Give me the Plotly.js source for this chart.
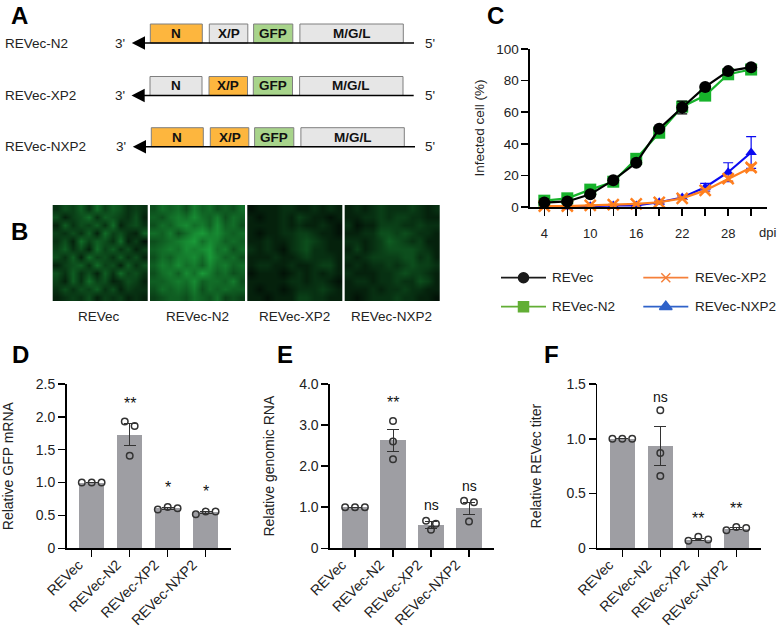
<!DOCTYPE html>
<html>
<head>
<meta charset="utf-8">
<script src="https://cdn.plot.ly/plotly-3.0.1.min.js"></script>
<style>html,body{margin:0;padding:0;background:#fff}</style>
</head>
<body>
<div id="chart" style="width:777px;height:627px"></div>
<script>
// ---------- data ----------
const categories = ['REVec', 'REVec-N2', 'REVec-XP2', 'REVec-NXP2'];
const dpi = [4, 7, 10, 13, 16, 19, 22, 25, 28, 31];
const dpiTickLabels = ['4', '', '10', '', '16', '', '22', '', '28', ''];

const infectedREVec = [2.8, 3.5, 8, 17, 28, 49.5, 63, 76, 86, 88.5];
const infectedN2 = [4, 5.5, 11, 16, 30.5, 47, 63.5, 70.5, 84, 87];
const infectedXP2 = [0.5, 0.5, 1, 1.5, 2, 3, 5.5, 10.5, 18, 25];
const infectedNXP2 = [-0.5, 0, 0.5, 1, 1, 3, 6, 12.5, 22, 34.5];
const errREVec = [0.5, 0.5, 0.8, 1, 1, 1.5, 4, 1.5, 1, 1];
const errN2 = [0.5, 0.5, 0.8, 1, 1, 1.5, 2, 2, 1, 1];
const errXP2 = [0.3, 0.3, 0.3, 0.3, 0.3, 0.5, 0.8, 1, 1.5, 2];
const errNXP2 = [0.3, 0.3, 0.3, 0.3, 0.5, 0.8, 1, 2.5, 6, 10];

const gfpMeans = [1.0, 1.73, 0.61, 0.55];
const gfpErrors = [0, 0.165, 0.012, 0.015];
const gfpPoints = [[1, 1, 1], [1.93, 1.41, 1.86], [0.59, 0.63, 0.61], [0.52, 0.56, 0.56]];
const gfpSpread = [0.26, 0.13, 0.26, 0.26];
const gfpSig = ['', '**', '*', '*'];
const gfpSigY = [0, 2.2, 0.93, 0.86];
const gfpTicks = [0, 0.5, 1, 1.5, 2, 2.5];
const gfpTickText = ['0', '0.5', '1.0', '1.5', '2.0', '2.5'];

const rnaMeans = [1.0, 2.63, 0.57, 0.97];
const rnaErrors = [0, 0.27, 0.08, 0.155];
const rnaPoints = [[1, 1, 1], [3.1, 2.6, 2.17], [0.67, 0.45, 0.6], [1.16, 0.65, 1.12]];
const rnaSpread = [0.26, 0, 0.13, 0.13];
const rnaSig = ['', '**', 'ns', 'ns'];
const rnaSigY = [0, 3.55, 1.05, 1.52];
const rnaTicks = [0, 1, 2, 3, 4];
const rnaTickText = ['0', '1.0', '2.0', '3.0', '4.0'];

const titerMeans = [1.0, 0.93, 0.08, 0.18];
const titerErrors = [0, 0.178, 0.012, 0.01];
const titerPoints = [[1, 1, 1], [1.26, 0.87, 0.66], [0.07, 0.105, 0.08], [0.165, 0.195, 0.185]];
const titerSpread = [0.26, 0, 0.26, 0.26];
const titerSig = ['', 'ns', '**', '**'];
const titerSigY = [0, 1.385, 0.27, 0.36];
const titerTicks = [0, 0.5, 1, 1.5];
const titerTickText = ['0', '0.5', '1.0', '1.5'];

const constructs = ['REVec-N2', 'REVec-XP2', 'REVec-NXP2'];
const genes = ['N', 'X/P', 'GFP', 'M/G/L'];
const duplicated = [['N'], ['X/P'], ['N', 'X/P']];

// coarse brightness of each micrograph (one digit per cell, 0-9)
const micrographNames = ['REVec', 'REVec-N2', 'REVec-XP2', 'REVec-NXP2'];
const micrographRows = [
  ['243526354232','413462543241','152435261342','324251634215','241635426130','352416352413',
   '425163425241','134526341524','425241526342','315263412431','242435241322','123241323121'],
  ['465647564546','546768657465','465786758564','657468978656','456789687565','567687896746',
   '465778697564','576867586756','467586975645','556768566574','465657465655','345546546343'],
  ['011122112121','101121321101','111121211210','101122332110','112112343211','212102342211',
   '111211232221','122112112331','011101212121','111112212210','101101222321','110111332211'],
  ['121232223212','112232332211','201133322322','112244343221','221235432311','131234444321',
   '212333344231','121223234332','211122343321','122122322431','111212232211','101222322110']
];
const micrographs = micrographRows.map(rows => rows.map(r => r.split('').map(Number)));

// ---------- layout helpers (pixel positions on the 777x627 canvas) ----------
const W = 777, H = 627;
const font = 'Liberation Sans, Arial, sans-serif';
const dx = a => [a[0] / W, a[1] / W];
const dy = a => [1 - a[1] / H, 1 - a[0] / H];

const traces = [];
const shapes = [];
const annotations = [];
const layout = {
  width: W, height: H, margin: {l: 0, r: 0, t: 0, b: 0},
  paper_bgcolor: '#fff', plot_bgcolor: 'rgba(0,0,0,0)',
  showlegend: false, font: {family: font, size: 13, color: '#222'},
  bargap: 0, hovermode: false
};

// pixel overlay for schematic, micrographs, legend and letters
layout.xaxis6 = {domain: [0, 1], range: [0, W], visible: false, fixedrange: true};
layout.yaxis6 = {domain: [0, 1], range: [H, 0], visible: false, fixedrange: true};
const text = (x, y, t, o = {}) => annotations.push(Object.assign({
  xref: 'x6', yref: 'y6', x: (o.xanchor ? x : x - 2), y, text: t, showarrow: false, xanchor: 'left', yanchor: 'middle',
  font: {family: font, size: 13.5, color: '#222'}
}, o));
const letter = (x, y, t) => text(x, y, t, {font: {family: font, size: 24, color: '#000', weight: 700}});

// panel letters
letter(11, 15.5, 'A'); letter(11, 231, 'B'); letter(487, 15.5, 'C');
letter(12, 354.5, 'D'); letter(277, 354.5, 'E'); letter(544, 354.5, 'F');

// panel A
const rowLine = [43, 95.5, 146.7];
const rowShift = [0.3, 0, 1.3];
const geneX = {'N': [150, 202], 'X/P': [209, 247.5], 'GFP': [253.3, 292.5], 'M/G/L': [299.6, 403]};
const geneFill = {orange: '#FDB63E', gray: '#E6E6E6', green: '#A8D48B'};
constructs.forEach((name, i) => {
  const y = rowLine[i], s = rowShift[i];
  text(5, y, name);
  text(114.5 + s, y, "3'");
  text(425 + s * 0.1, y, "5'");
  genes.forEach(g => {
    const fill = g === 'GFP' ? geneFill.green : duplicated[i].includes(g) ? geneFill.orange : geneFill.gray;
    shapes.push({type: 'rect', xref: 'x6', yref: 'y6', x0: geneX[g][0] + s, x1: geneX[g][1] + s, y0: y - 19, y1: y,
      fillcolor: fill, line: {color: '#7f7f7f', width: 1}});
    text((geneX[g][0] + geneX[g][1]) / 2 + s, y - 9.7, g, {xanchor: 'center',
      font: {family: font, size: 13.5, color: '#111', weight: 700}});
  });
  shapes.push({type: 'line', xref: 'x6', yref: 'y6', x0: 140, x1: 413.7 + s, y0: y, y1: y, line: {color: '#000', width: 1.6}});
  shapes.push({type: 'path', xref: 'x6', yref: 'y6', fillcolor: '#000', line: {width: 0},
    path: `M ${131.5 + s} ${y} L ${144.7 + s} ${y - 6.7} L ${144.7 + s} ${y + 6.7} Z`});
});

// panel B
const microX = [[52.7, 148], [150, 245.2], [247.3, 342.3], [344.7, 440]];
const microLabelX = [99, 197.7, 294.3, 391.7];
micrographs.forEach((z, i) => {
  const n = z.length, span = microX[i][1] - microX[i][0];
  traces.push({type: 'heatmap', z, x0: microX[i][0] + span / (2 * n), dx: span / n, y0: 205 + 95.5 / (2 * n), dy: 95.5 / n,
    xaxis: 'x6', yaxis: 'y6', zmin: 0, zmax: 9, zsmooth: 'best', showscale: false, hoverinfo: 'skip',
    colorscale: [[0, '#021207'], [1, '#1A9A38']]});
  text(microLabelX[i], 316.7, micrographNames[i], {xanchor: 'center'});
});

// panel C
layout.xaxis = {domain: dx([530, 767]), range: [2.13, 33.07], anchor: 'y', tickmode: 'array', tickvals: dpi, ticktext: dpiTickLabels,
  showline: true, linecolor: '#000', linewidth: 1.6, ticks: 'outside', ticklen: 7, tickwidth: 1.5, tickcolor: '#000',
  showgrid: false, zeroline: false, tickangle: 0, tickfont: {family: font, size: 13, color: '#222'}, fixedrange: true,
  ticklabelstandoff: 7};
layout.yaxis = {domain: dy([49, 207]), range: [0, 100], anchor: 'x', tickmode: 'array', tickvals: [0, 20, 40, 60, 80, 100],
  showline: true, linecolor: '#000', linewidth: 1.6, ticks: 'outside', ticklen: 7, tickwidth: 1.5, tickcolor: '#000',
  showgrid: false, zeroline: false, tickfont: {family: font, size: 13.5, color: '#222'}, fixedrange: true,
  title: {text: 'Infected cell (%)', font: {family: font, size: 13.5, color: '#222'}, standoff: 8}};
const curve = (name, y, err, color, symbol, size, extra = {}) => traces.push({
  type: 'scatter', mode: 'lines+markers', name, x: dpi, y, cliponaxis: false,
  error_y: {type: 'data', array: err, visible: true, color, thickness: 1.2, width: 5},
  line: {color, width: 2.2},
  marker: Object.assign({color, symbol, size}, extra)
});
curve('REVec-NXP2', infectedNXP2, errNXP2, '#0A0AF0', 'triangle-up', 10);
curve('REVec-N2', infectedN2, errN2, '#17B32B', 'square', 12);
curve('REVec-XP2', infectedXP2, errXP2, '#FF7F1E', 'x-thin', 11, {line: {color: '#FF7F1E', width: 2.5}});
curve('REVec', infectedREVec, errREVec, '#000', 'circle', 12);
text(767, 232.5, 'dpi', {xanchor: 'center', font: {family: font, size: 13, color: '#222'}});

// legend of panel C
const legendRows = [
  ['REVec', 0, 0, '#1a1a1a', 'circle', 10],
  ['REVec-XP2', 1, 0, '#F5803A', 'x-thin', 9],
  ['REVec-N2', 0, 1, '#62AE35', 'square', 10],
  ['REVec-NXP2', 1, 1, '#2F62C9', 'triangle-up', 11]
];
legendRows.forEach(([name, col, row, color, symbol, size]) => {
  const x0 = col ? 643.3 : 501, y = row ? 306.7 : 277.7;
  traces.push({type: 'scatter', mode: 'lines', x: [x0, x0 + 45], y: [y, y], xaxis: 'x6', yaxis: 'y6',
    line: {color, width: 1.8}, hoverinfo: 'skip'});
  traces.push({type: 'scatter', mode: 'markers', x: [x0 + 22.5], y: [y], xaxis: 'x6', yaxis: 'y6', hoverinfo: 'skip',
    marker: {color, symbol, size, line: {color, width: 1.5}}});
  text(x0 + 51.3, y, name);
});

// panels D, E, F
function barPanel(idx, left, right, means, errors, points, spread, sig, sigY, ticks, tickText, title, standoff) {
  const xa = 'xaxis' + idx, ya = 'yaxis' + idx, xr = 'x' + idx, yr = 'y' + idx;
  const xpos = categories.map((_, i) => i);
  layout[xa] = {domain: dx([left, right]), range: [-0.658, 3.658], anchor: yr, tickmode: 'array', tickvals: xpos, ticktext: categories,
    tickangle: -45, showline: true, linecolor: '#000', linewidth: 1.6, ticks: 'outside', ticklen: 7, tickwidth: 1.5, tickcolor: '#000',
    showgrid: false, zeroline: false, tickfont: {family: font, size: 14.2, color: '#222'}, fixedrange: true,
    ticklabelshift: -13, ticklabelstandoff: -6};
  layout[ya] = {domain: dy([384, 548.3]), range: [0, ticks[ticks.length - 1]], anchor: xr, tickmode: 'array', tickvals: ticks, ticktext: tickText,
    showline: true, linecolor: '#000', linewidth: 1.6, ticks: 'outside', ticklen: 7, tickwidth: 1.5, tickcolor: '#000',
    showgrid: false, zeroline: false, tickfont: {family: font, size: 14, color: '#222'}, fixedrange: true,
    title: {text: title, font: {family: font, size: 14, color: '#222'}, standoff}};
  traces.push({type: 'bar', x: xpos, y: means, width: 0.66, xaxis: xr, yaxis: yr, marker: {color: '#9E9EA3', line: {width: 0}},
    error_y: {type: 'data', array: errors, visible: true, color: '#333', thickness: 1, width: 6}, cliponaxis: false});
  const px = [], py = [];
  points.forEach((vals, i) => {
    [-1, 0, 1].forEach((k, j) => { px.push(i + k * spread[i]); py.push(vals[j]); });
  });
  traces.push({type: 'scatter', mode: 'markers', x: px, y: py, xaxis: xr, yaxis: yr, cliponaxis: false,
    marker: {symbol: 'circle-open', size: 6.5, color: '#333', line: {color: '#333', width: 1.5}}});
  sig.forEach((s, i) => {
    if (!s) return;
    annotations.push({xref: xr, yref: yr, x: i, y: sigY[i], text: s, showarrow: false, yanchor: 'middle',
      font: {family: font, size: s === 'ns' ? 14 : 16, color: '#111'}});
  });
}
barPanel(2, 66.7, 230.7, gfpMeans, gfpErrors, gfpPoints, gfpSpread, gfpSig, gfpSigY, gfpTicks, gfpTickText, 'Relative GFP mRNA', 24);
barPanel(3, 330, 494, rnaMeans, rnaErrors, rnaPoints, rnaSpread, rnaSig, rnaSigY, rnaTicks, rnaTickText, 'Relative genomic RNA', 21);
barPanel(4, 597.3, 761.3, titerMeans, titerErrors, titerPoints, titerSpread, titerSig, titerSigY, titerTicks, titerTickText, 'Relative REVec titer', 21);

layout.shapes = shapes;
layout.annotations = annotations;
Plotly.newPlot('chart', traces, layout, {displayModeBar: false, staticPlot: true});
</script>
</body>
</html>
